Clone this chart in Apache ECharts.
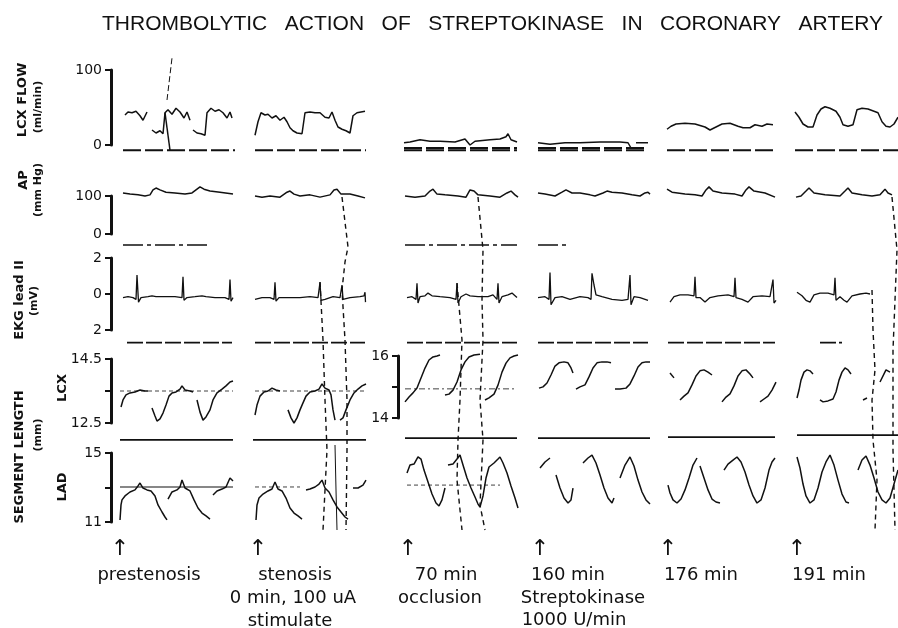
<!DOCTYPE html>
<html>
<head>
<meta charset="utf-8">
<script src="https://cdn.jsdelivr.net/npm/echarts@6/dist/echarts.min.js"></script>
<style>
  html, body { margin: 0; background: #fff; }
  #main { width: 898px; height: 628px; }
</style>
</head>
<body>
<div id="main"></div>
<script>
// 时间轴单位与记录纸横向位置一致；每条记录由若干段 [t, 值] 组成

// LCX 血流 (ml/min)
const flowPieces = [
  [[125, 40], [128, 44], [132, 43], [136, 45], [140, 39], [143, 33], [147, 44]],
  [[152, 20], [156, 16], [160, 19], [163, 15], [165, 43], [168, 47], [172, 41], [176, 49], [180, 44], [184, 36], [187, 44], [190, 33]],
  [[165, 43], [170, -7]],
  [[193, 20], [197, 16], [201, 15], [205, 13], [207, 43], [211, 49], [215, 45], [219, 47], [223, 43], [227, 36], [230, 44], [232, 36]],
  [[255, 13], [258, 31], [261, 43], [265, 40], [268, 41], [272, 36], [276, 39], [280, 33], [284, 37], [287, 31], [290, 23], [293, 19], [297, 16], [302, 15], [305, 43], [310, 44], [315, 43], [320, 43], [325, 37], [329, 36], [332, 44], [335, 33], [338, 24], [342, 21], [346, 19], [350, 16], [353, 39], [357, 43], [361, 44], [365, 45]],
  [[404, 3], [410, 4], [420, 7], [430, 5], [440, 5], [455, 4], [465, 8], [470, 0], [475, 5], [490, 7], [500, 8], [506, 11], [508, 15], [511, 7], [517, 4]],
  [[538, 3], [550, 1], [565, 3], [580, 3], [600, 4], [620, 4], [628, 3], [631, -4]],
  [[636, 3], [648, 3]],
  [[667, 21], [671, 25], [676, 28], [685, 29], [695, 28], [705, 24], [710, 20], [716, 24], [722, 28], [730, 29], [738, 25], [743, 23], [750, 23], [755, 27], [762, 25], [767, 28], [773, 27]],
  [[795, 44], [799, 37], [803, 28], [808, 24], [813, 24], [817, 40], [821, 48], [825, 51], [830, 49], [836, 45], [840, 37], [843, 27], [848, 25], [853, 27], [857, 47], [862, 49], [868, 48], [874, 45], [878, 43], [882, 31], [886, 25], [890, 24], [894, 28], [898, 37]]
];
const flowArtifact = [[167, 60], [172, 116]];
const flowBase = [[123, 235, -7], [255, 366, -7], [404, 517, -7], [404, 517, -4], [538, 648, -7], [538, 648, -4], [667, 776, -7], [795, 898, -7]];

// 动脉压 AP (mm Hg)
const apPieces = [
  [[123, 108], [130, 105], [138, 103], [145, 100], [150, 103], [153, 116], [156, 121], [160, 116], [166, 110], [175, 108], [185, 105], [192, 108], [196, 116], [200, 124], [204, 118], [210, 113], [220, 110], [233, 105]],
  [[255, 100], [262, 97], [270, 100], [280, 97], [287, 110], [290, 113], [294, 105], [300, 100], [310, 103], [320, 97], [330, 103], [334, 116], [337, 118], [341, 105], [350, 105], [358, 100], [365, 95]],
  [[405, 100], [415, 97], [425, 100], [430, 113], [433, 118], [437, 105], [445, 103], [458, 100], [466, 97], [470, 116], [474, 113], [478, 103], [490, 100], [500, 97], [507, 108], [511, 113], [515, 103], [518, 97]],
  [[538, 108], [545, 105], [555, 100], [562, 110], [566, 116], [572, 108], [580, 108], [590, 103], [595, 100], [603, 108], [607, 113], [612, 110], [622, 108], [632, 103], [640, 100], [645, 108], [648, 110], [650, 105]],
  [[667, 118], [672, 110], [685, 105], [695, 103], [702, 100], [706, 116], [709, 124], [713, 113], [722, 108], [735, 105], [742, 100], [746, 116], [749, 124], [754, 113], [765, 108], [775, 97]],
  [[796, 97], [801, 100], [806, 113], [809, 121], [814, 108], [825, 103], [840, 100], [845, 113], [848, 121], [852, 108], [862, 103], [872, 100], [880, 103], [885, 118], [888, 108], [892, 103]]
];
const apBase = [[123, 210, -29], [405, 517, -29], [538, 566, -29]];

// 心电图 II 导联 (mV)
const ekgPieces = [
  [[123, -0.2], [128, -0.15], [133, -0.2], [136, -0.3], [137, 1.05], [138.5, -0.45], [141, -0.2], [148, -0.15], [152, -0.1], [156, -0.15], [165, -0.15], [175, -0.15], [182, -0.2], [183, 0.95], [184, -0.35], [187, -0.2], [195, -0.15], [202, -0.1], [206, -0.15], [215, -0.2], [225, -0.2], [229, -0.3], [230, 0.8], [231, -0.4], [233, -0.2]],
  [[255, -0.3], [262, -0.2], [270, -0.2], [274, -0.3], [275, 0.65], [276, -0.4], [279, -0.2], [290, -0.2], [300, -0.2], [310, -0.15], [318, -0.2], [320, 0.65], [321, -0.35], [325, -0.3], [333, -0.15], [340, -0.2], [342, 0.5], [343, -0.3], [350, -0.2], [360, -0.15], [364, -0.1], [365, 0.1], [365.5, -0.45]],
  [[407, -0.2], [412, -0.15], [416, -0.3], [417, 0.6], [418, -0.5], [420, -0.15], [425, -0.1], [428, 0.05], [432, -0.1], [440, -0.15], [450, -0.2], [456, -0.3], [457, 0.6], [458, -0.5], [461, -0.15], [466, 0], [470, -0.1], [478, -0.15], [488, -0.15], [493, -0.05], [497, -0.3], [498, 0.6], [499, -0.5], [502, -0.15], [508, -0.05], [512, 0.05], [515, -0.1], [517, -0.2]],
  [[538, -0.2], [545, -0.15], [549, -0.3], [550, 1.2], [551, -0.6], [555, -0.2], [562, -0.15], [570, -0.3], [580, -0.15], [588, -0.2], [591, -0.3], [592, 1.15], [594, 0.5], [596, -0.05], [602, -0.15], [612, -0.3], [622, -0.35], [628, -0.3], [630, 1.05], [631, -0.6], [634, -0.15], [640, -0.2], [648, -0.35]],
  [[670, -0.45], [674, -0.15], [680, -0.05], [688, -0.05], [694, -0.1], [695, 0.95], [696, -0.2], [700, -0.2], [705, -0.45], [710, -0.2], [718, -0.1], [728, -0.05], [734, -0.15], [735, 0.9], [736, -0.2], [742, -0.3], [748, -0.45], [753, -0.15], [762, -0.1], [770, -0.15], [772, -0.2], [773, 0.8], [774, -0.5], [776, -0.35]],
  [[797, 0.1], [802, -0.1], [806, -0.35], [810, -0.45], [814, -0.05], [820, 0.05], [828, 0.05], [834, -0.05], [835, 0.9], [836, -0.35], [840, -0.15], [844, -0.35], [847, -0.45], [852, -0.1], [860, 0], [866, 0.05], [870, 0]]
];
const ekgBase = [[127, 232, -2.7], [255, 365, -2.7], [407, 517, -2.7], [538, 648, -2.7], [668, 775, -2.7], [820, 842, -2.7]];

// 节段长度 LCX (mm)
const lcxPieces = [
  [[121, 13.0], [123, 13.22], [126, 13.38], [130, 13.44], [135, 13.47], [140, 13.53], [145, 13.5], [148, 13.5]],
  [[152, 12.97], [155, 12.72], [157, 12.56], [160, 12.63], [163, 12.81], [166, 13.06], [169, 13.34], [172, 13.44], [176, 13.47], [180, 13.56], [182, 13.66], [185, 13.53], [190, 13.5], [193, 13.47]],
  [[197, 13.22], [200, 12.84], [203, 12.59], [206, 12.69], [210, 12.91], [213, 13.22], [217, 13.44], [222, 13.56], [226, 13.66], [230, 13.78], [233, 13.81]],
  [[255, 12.75], [257, 13.06], [260, 13.34], [264, 13.47], [268, 13.5], [272, 13.59], [276, 13.53], [280, 13.5]],
  [[288, 12.91], [291, 12.66], [294, 12.5], [297, 12.66], [300, 12.91], [303, 13.13], [306, 13.34], [310, 13.47], [315, 13.5], [319, 13.56], [322, 13.72], [325, 13.59], [329, 13.53], [331, 13.38], [333, 12.91], [335, 12.59]],
  [[340, 12.59], [343, 12.66], [346, 12.91], [350, 13.22], [354, 13.44], [358, 13.56], [362, 13.66], [366, 13.72]],
  [[539, 13.59], [543, 13.63], [547, 13.75], [551, 14.0], [555, 14.28], [559, 14.38], [564, 14.41], [568, 14.38], [571, 14.22], [573, 14.06]],
  [[576, 13.56], [580, 13.63], [585, 13.69], [589, 13.94], [593, 14.22], [597, 14.38], [602, 14.41], [607, 14.41], [611, 14.38]],
  [[615, 13.56], [620, 13.56], [626, 13.59], [630, 13.72], [634, 13.97], [638, 14.25], [642, 14.38], [646, 14.41], [650, 14.41]],
  [[670, 14.06], [674, 13.91]],
  [[680, 13.22], [684, 13.34], [688, 13.44], [692, 13.69], [696, 13.97], [700, 14.13], [704, 14.16], [708, 14.09], [712, 14.0]],
  [[722, 13.16], [726, 13.31], [730, 13.41], [734, 13.66], [738, 13.97], [742, 14.13], [746, 14.16], [750, 14.03], [753, 13.91]],
  [[760, 13.16], [764, 13.25], [768, 13.34], [772, 13.53], [776, 13.78]],
  [[797, 13.28], [799, 13.53], [801, 13.84], [804, 14.09], [807, 14.16], [810, 14.13], [813, 14.03]],
  [[820, 13.22], [823, 13.16], [828, 13.19], [833, 13.25], [836, 13.47], [839, 13.84], [842, 14.09], [845, 14.22], [848, 14.16], [851, 14.03]],
  [[863, 13.22], [867, 13.28]],
  [[880, 13.78], [886, 14.16], [890, 14.09]]
];
const lcxRef = [[120, 233, 13.5], [255, 366, 13.5]];
const lcxBase = [[120, 233, 11.97], [253, 366, 11.97], [405, 517, 12.03], [538, 650, 12.03], [668, 775, 12.06], [797, 898, 12.12]];

// 70 min 段 LCX 使用另一量程 (14–16 mm)
const lcxOcclPieces = [
  [[405, 14.52], [409, 14.68], [413, 14.81], [417, 14.97], [421, 15.29], [425, 15.61], [429, 15.87], [433, 15.97], [437, 16.0], [440, 16.03]],
  [[445, 14.74], [449, 14.77], [453, 14.9], [457, 15.16], [461, 15.55], [465, 15.81], [469, 15.97], [474, 16.03], [480, 16.06]],
  [[485, 14.58], [489, 14.65], [494, 14.77], [498, 15.06], [502, 15.48], [506, 15.77], [510, 15.94], [514, 16.0], [518, 16.03]]
];
const lcxOcclRef = [[405, 515, 14.94]];

// 节段长度 LAD (mm)
const ladPieces = [
  [[120, 11.12], [121, 11.99], [122, 12.28], [125, 12.51], [130, 12.74], [135, 12.86], [138, 13.09], [140, 13.26], [143, 12.97], [147, 12.86], [151, 12.8], [155, 12.51], [158, 11.99], [162, 11.58], [165, 11.29], [167, 11.12]],
  [[168, 12.33], [172, 12.74], [177, 12.86], [180, 13.03], [182, 13.43], [185, 12.97], [190, 12.8], [194, 12.28], [198, 11.81], [202, 11.52], [206, 11.35], [210, 11.17]],
  [[213, 12.57], [217, 12.8], [222, 12.91], [226, 13.03], [230, 13.55], [233, 13.38]],
  [[256, 11.12], [257, 11.99], [259, 12.39], [263, 12.62], [268, 12.8], [272, 12.91], [275, 13.32], [278, 12.91], [282, 12.8], [286, 12.39], [290, 11.81], [294, 11.52], [298, 11.35], [302, 11.17]],
  [[306, 12.86], [310, 12.91], [315, 13.03], [319, 13.2], [322, 13.43], [325, 12.97], [329, 12.74], [333, 12.28], [337, 11.87], [341, 11.58], [345, 11.29], [348, 11.17]],
  [[353, 12.97], [358, 12.97], [363, 13.14], [366, 13.43]],
  [[407, 13.84], [410, 14.3], [414, 14.36], [418, 14.77], [421, 14.65], [424, 14.01], [428, 13.32], [432, 12.62], [436, 12.1], [439, 11.93], [442, 12.28], [445, 12.97]],
  [[448, 14.3], [453, 14.36], [457, 14.65], [460, 14.88], [463, 14.3], [467, 13.55], [471, 12.97], [475, 12.45], [478, 12.04], [480, 11.87], [483, 12.51], [486, 13.55], [489, 14.19], [494, 14.42], [498, 14.65], [500, 14.77], [503, 14.42], [507, 13.84], [511, 13.09], [515, 12.39], [518, 11.81]],
  [[540, 14.13], [545, 14.48], [550, 14.71]],
  [[556, 13.72], [560, 12.97], [564, 12.39], [568, 12.1], [571, 12.28], [573, 12.97]],
  [[583, 14.42], [588, 14.71], [592, 14.88], [596, 14.42], [600, 13.72], [604, 12.97], [608, 12.39], [612, 12.1], [614, 12.39]],
  [[620, 13.55], [625, 14.3], [630, 14.77], [634, 14.25], [638, 13.43], [642, 12.74], [646, 12.28], [650, 12.04]],
  [[668, 13.14], [670, 12.68], [673, 12.28], [677, 12.1], [681, 12.33], [685, 12.86], [689, 13.55], [693, 14.3], [697, 14.71]],
  [[700, 14.25], [704, 13.55], [708, 12.86], [712, 12.33], [716, 12.16], [720, 12.1]],
  [[724, 14.01], [728, 14.36], [733, 14.59], [737, 14.77], [741, 14.48], [745, 13.9], [749, 13.14], [753, 12.51], [757, 12.1], [761, 12.28], [765, 12.97], [769, 14.01], [772, 14.48], [775, 14.71]],
  [[797, 14.77], [800, 14.13], [803, 13.2], [806, 12.51], [810, 12.1], [814, 12.28], [818, 12.97], [822, 13.9], [826, 14.48], [830, 14.88], [834, 14.3], [838, 13.43], [842, 12.62], [846, 12.16], [849, 12.1]],
  [[858, 14.01], [862, 14.59], [866, 14.83], [870, 14.3], [874, 13.55], [878, 12.74], [882, 12.28], [886, 12.1], [890, 12.39], [894, 13.2], [898, 14.01]]
];
const ladRef = [[120, 233, 13.03]];
const ladRefDashed = [[255, 300, 13.03], [407, 500, 13.14]];

// 跨通道的虚线时间标记（纵向为记录纸深度）
const timingLines = [
  [[342, 197], [348, 247], [345, 262], [342, 290], [345, 340], [347, 400], [347, 450], [346, 530]],
  [[320, 282], [323, 340], [325, 400], [327, 450], [325, 490], [323, 530]],
  [[478, 197], [483, 250], [482, 300], [483, 340], [480, 400], [483, 440], [480, 505], [485, 530]],
  [[457, 283], [462, 340], [460, 400], [458, 440], [457, 480], [462, 530]],
  [[892, 197], [897, 250], [895, 300], [893, 350], [893, 450], [895, 530]],
  [[872, 290], [873, 330], [875, 370], [872, 400], [873, 440], [877, 480], [875, 530]]
];
const thinMarks = [
  [[335, 445], [336, 490], [337, 530]]
];

// 文字
const titleText = 'THROMBOLYTIC   ACTION   OF   STREPTOKINASE   IN   CORONARY   ARTERY';
const eventLines = [
  ['prestenosis', 149, 575], ['stenosis', 295, 575], ['0 min, 100 uA', 293, 598], ['stimulate', 290, 621],
  ['70 min', 446, 575], ['occlusion', 440, 598],
  ['160 min', 568, 575], ['Streptokinase', 583, 598], ['1000 U/min', 574, 620],
  ['176 min', 701, 575], ['191 min', 829, 575]
];
const arrowX = [120, 258, 408, 540, 668, 797];

const INK = '#111';
const X_MAX = 898;
const LEFT = 111;

// 每个通道一个 grid
const rows = [
  { top: 70, height: 75, min: 0, max: 100, interval: 100, fmt: v => v },
  { top: 196, height: 38, min: 0, max: 100, interval: 100, fmt: v => v },
  { top: 258, height: 72, min: -2, max: 2, interval: 2, fmt: v => Math.abs(v) },
  { top: 359, height: 64, min: 12.5, max: 14.5, interval: 1, fmt: v => (v === 13.5 ? '' : v.toFixed(1)) },
  { top: 356, height: 62, min: 14, max: 16, interval: 1, fmt: v => (v === 15 ? '' : v), left: 398 },
  { top: 453, height: 69, min: 11, max: 15, interval: 2, fmt: v => (v === 13 ? '' : v) }
];

const grid = rows.map(r => ({ left: r.left || LEFT, right: 0, top: r.top, height: r.height }));
grid.push({ left: LEFT, right: 0, top: 0, height: 628 });

const xAxis = grid.map((g, i) => ({ gridIndex: i, type: 'value', min: g.left, max: X_MAX, show: false }));

const yAxis = rows.map((r, i) => ({
  gridIndex: i,
  type: 'value',
  min: r.min,
  max: r.max,
  interval: r.interval,
  axisLine: { show: true, lineStyle: { color: INK, width: 3 } },
  axisTick: { show: true, length: 6, lineStyle: { color: INK, width: 2 } },
  axisLabel: { color: INK, fontSize: 14, fontFamily: 'DejaVu Sans', margin: 9, formatter: r.fmt },
  splitLine: { show: false }
}));
yAxis.push({ gridIndex: 6, type: 'value', min: 0, max: 628, inverse: true, show: false });

const series = [];
function addLines(pieces, idx, style) {
  pieces.forEach(p => series.push({
    type: 'line',
    xAxisIndex: idx,
    yAxisIndex: idx,
    data: p,
    symbol: 'none',
    clip: false,
    silent: true,
    lineStyle: Object.assign({ color: INK, width: 1.5 }, style)
  }));
}
function spans(list) {
  return list.map(s => [[s[0], s[2]], [s[1], s[2]]]);
}

addLines(flowPieces, 0);
addLines([flowArtifact], 0, { width: 1, type: [6, 3] });
addLines(spans(flowBase), 0, { width: 1.8, type: [18, 4] });

addLines(apPieces, 1);
addLines(spans(apBase), 1, { width: 1.6, type: [20, 4, 4, 4] });

addLines(ekgPieces, 2, { width: 1.3 });
addLines(spans(ekgBase), 2, { width: 1.6, type: [16, 3] });

addLines(lcxPieces, 3);
addLines(spans(lcxRef), 3, { width: 0.8, type: [4, 3] });
addLines(spans(lcxBase), 3, { width: 1.8 });

addLines(lcxOcclPieces, 4);
addLines(spans(lcxOcclRef), 4, { width: 0.8, type: [6, 3, 2, 3] });

addLines(ladPieces, 5);
addLines(spans(ladRef), 5, { width: 1.2 });
addLines(spans(ladRefDashed), 5, { width: 0.8, type: [4, 3] });

addLines(timingLines, 6, { width: 1.4, type: [5, 4] });
addLines(thinMarks, 6, { width: 1 });

// 左侧通道名称（竖排）
const sideLabels = [
  ['LCX FLOW', 23, 100, 13], ['(ml/min)', 38, 107, 11],
  ['AP', 24, 180, 13], ['(mm Hg)', 38, 190, 11],
  ['EKG lead II', 20, 300, 13], ['(mV)', 34, 301, 11],
  ['SEGMENT LENGTH', 20, 457, 13], ['(mm)', 38, 435, 11],
  ['LCX', 63, 388, 13], ['LAD', 63, 487, 13]
];

const graphic = [];
sideLabels.forEach(([text, x, y, size]) => graphic.push({
  type: 'text', x, y, rotation: Math.PI / 2,
  style: { text, fill: INK, font: `bold ${size}px "DejaVu Sans"`, align: 'center', verticalAlign: 'middle' }
}));
arrowX.forEach(x => graphic.push({
  type: 'text', x, y: 549,
  style: { text: '↑', fill: INK, font: '22px "DejaVu Sans"', align: 'center', verticalAlign: 'middle' }
}));
eventLines.forEach(([text, x, y]) => graphic.push({
  type: 'text', x, y,
  style: { text, fill: INK, font: '18px "DejaVu Sans"', align: 'center', verticalAlign: 'middle' }
}));

const chart = echarts.init(document.getElementById('main'));
chart.setOption({
  animation: false,
  backgroundColor: '#fff',
  title: {
    text: titleText,
    left: 97,
    top: 9,
    textStyle: { fontFamily: 'Liberation Sans', fontSize: 21, fontWeight: 'normal', color: INK }
  },
  grid,
  xAxis,
  yAxis,
  series,
  graphic
});
</script>
</body>
</html>
